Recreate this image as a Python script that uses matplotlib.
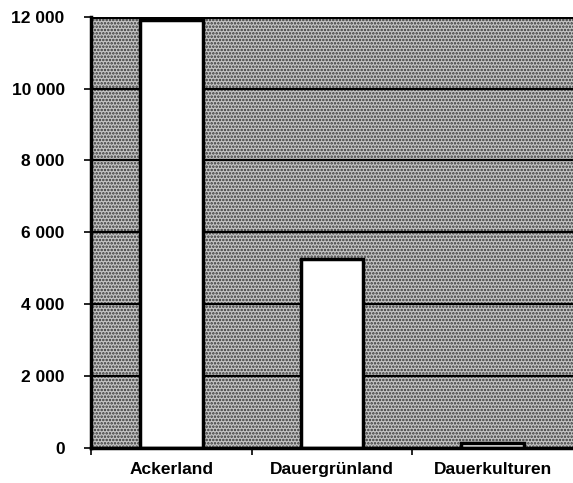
import matplotlib
matplotlib.use("Agg")
import matplotlib.pyplot as plt
from matplotlib.patches import Rectangle
from matplotlib.ticker import FuncFormatter

categories = ["Ackerland", "Dauergrünland", "Dauerkulturen"]
values = [11900, 5250, 150]
yticks = [0, 2000, 4000, 6000, 8000, 10000, 12000]

plt.rcParams['font.family'] = ['Liberation Sans', 'DejaVu Sans']
plt.rcParams['hatch.linewidth'] = 1.2

fig = plt.figure(figsize=(5.73, 4.83), dpi=100)
ax = fig.add_axes([0.159, 0.0725, 0.841, 0.893])

ax.set_facecolor('white')
bg = Rectangle((0, 0), 1, 1, transform=ax.transAxes, facecolor='#c4c4c4',
               edgecolor='#333333', hatch='.....', linewidth=0, zorder=0)
ax.add_patch(bg)

for y in yticks[1:]:
    ax.axhline(y, color='black', lw=1.6 if y < 12000 else 3.0, zorder=1)

x = list(range(len(categories)))
ax.bar(x, values, width=0.39, color='white', edgecolor='black', linewidth=2.5, zorder=2)

ax.set_xlim(-0.5, 2.5)
ax.set_ylim(0, 12000)
ax.set_yticks(yticks)
ax.yaxis.set_major_formatter(FuncFormatter(lambda v, p: f"{int(v):,}".replace(",", " ")))
ax.set_xticks(x)
ax.set_xticklabels(categories)
ax.set_xticks([-0.5, 0.5, 1.5], minor=True)
ax.tick_params(axis='x', which='major', length=0, pad=10, labelsize=12.5)
ax.tick_params(axis='x', which='minor', length=5, width=1.2, direction='out')
ax.tick_params(axis='y', length=5, width=1.2, direction='out', pad=14, labelsize=12.5)
for lab in ax.get_xticklabels() + ax.get_yticklabels():
    lab.set_fontweight('bold')

for s in ['top', 'right']:
    ax.spines[s].set_visible(False)
ax.spines['left'].set_linewidth(2.5)
ax.spines['bottom'].set_linewidth(2.5)
ax.spines['left'].set_zorder(3)
ax.spines['bottom'].set_zorder(3)

fig.savefig("out.png", dpi=100)
